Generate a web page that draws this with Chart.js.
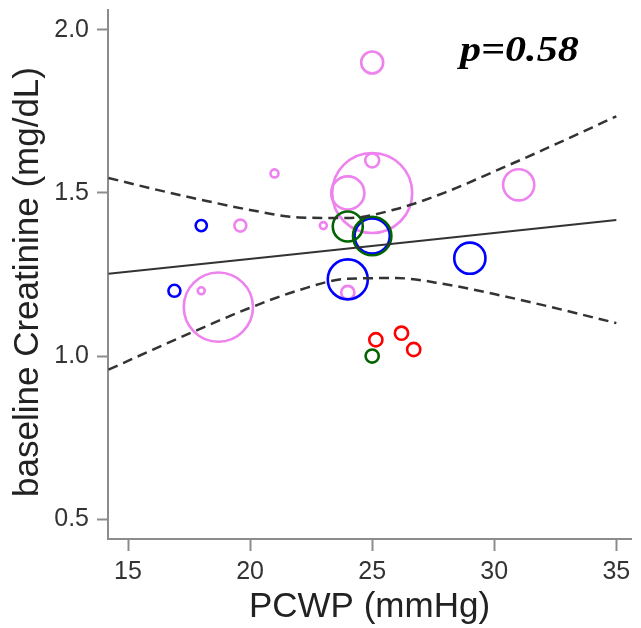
<!DOCTYPE html>
<html lang="en">
<head>
    <meta charset="UTF-8">
    <title>PCWP vs baseline Creatinine</title>
    <script src="https://cdn.jsdelivr.net/npm/chart.js"></script>
    <style>
        body { margin: 0; background: #fff; }
    </style>
</head>
<body>
    <canvas id="creatChart" width="641" height="628"></canvas>

    <script>
        // study points per group: PCWP (mmHg), creatinine (mg/dL), study weight
        const pinkX = [25, 25, 25, 24, 31, 21, 19.6, 23, 18, 18.7, 24];
        const pinkY = [1.90, 1.50, 1.60, 1.50, 1.525, 1.56, 1.40, 1.40, 1.20, 1.15, 1.195];
        const pinkW = [5.5, 20, 3.5, 8.3, 7.8, 2, 3, 1.75, 1.75, 17.3, 3.3];

        const blueX = [18, 16.9, 24, 29, 25];
        const blueY = [1.40, 1.20, 1.235, 1.30, 1.368];
        const blueW = [2.8, 3, 10, 7.8, 8.8];

        const greenX = [24, 25, 25];
        const greenY = [1.397, 1.368, 1.0];
        const greenW = [7.5, 9.6, 3.3];

        const redX = [25.15, 26.2, 26.7];
        const redY = [1.05, 1.07, 1.02];
        const redW = [3.3, 3.3, 3.3];

        // meta-regression fit and 95% band
        const fitX = [14.2, 35];
        const fitY = [1.252, 1.417];
        const bandX = [14.2, 16, 18, 20, 22, 24, 26, 28, 30, 32, 35];
        const bandUpper = [1.546, 1.513, 1.479, 1.448, 1.425, 1.423, 1.451, 1.502, 1.566, 1.632, 1.735];
        const bandLower = [0.958, 1.019, 1.085, 1.148, 1.202, 1.237, 1.239, 1.220, 1.190, 1.156, 1.101];

        const xTicks = [15, 20, 25, 30, 35];
        const yTicks = [0.5, 1.0, 1.5, 2.0];
        const pLabel = 'p=0.58';
        const xTitle = 'PCWP (mmHg)';
        const yTitle = 'baseline Creatinine (mg/dL)';

        const RADIUS_PER_WEIGHT = 2;

        function bubbles(xs, ys, ws) {
            return xs.map((x, i) => ({ x: x, y: ys[i], r: ws[i] * RADIUS_PER_WEIGHT }));
        }

        function xy(xs, ys) {
            return xs.map((x, i) => ({ x: x, y: ys[i] }));
        }

        function bubbleSet(data, color, order) {
            return {
                type: 'bubble',
                data: data,
                backgroundColor: 'rgba(0,0,0,0)',
                borderColor: color,
                borderWidth: 2.6,
                hoverRadius: 0,
                order: order
            };
        }

        function lineSet(data, dashed) {
            return {
                type: 'line',
                data: data,
                borderColor: '#333333',
                borderWidth: dashed ? 2.5 : 2,
                borderDash: dashed ? [10, 6] : [],
                pointRadius: 0,
                fill: false,
                tension: 0.4,
                cubicInterpolationMode: 'monotone',
                order: 0
            };
        }

        // fixed box for each axis, no extra label padding
        function fixBox(w, h) {
            return s => {
                if (w !== null) s.width = w;
                if (h !== null) s.height = h;
                s.paddingTop = 0;
                s.paddingBottom = 0;
                s.paddingLeft = 0;
                s.paddingRight = 0;
            };
        }

        const titleFamily = '"Liberation Sans", Arial, sans-serif';

        // y title sits a little below the plot's middle, p-value in the top right
        const annotations = {
            id: 'annotations',
            afterDraw(chart) {
                const ctx = chart.ctx;
                ctx.save();
                ctx.font = '35px ' + titleFamily;
                ctx.fillStyle = '#222';
                ctx.textAlign = 'center';
                ctx.textBaseline = 'middle';
                ctx.translate(28.5, 282);
                ctx.rotate(-Math.PI / 2);
                ctx.fillText(yTitle, 0, 0);
                ctx.restore();

                ctx.save();
                ctx.font = 'italic bold 36px "Liberation Serif"';
                ctx.fillStyle = '#000';
                ctx.textBaseline = 'alphabetic';
                ctx.textAlign = 'left';
                ctx.translate(460, 61);
                ctx.scale(1.17, 1);
                ctx.fillText(pLabel, 0, 0);
                ctx.restore();
            }
        };

        const axisColor = '#8c8c8c';
        const tickFont = { family: titleFamily, size: 25 };
        const titleFont = { family: titleFamily, size: 35 };

        new Chart(document.getElementById('creatChart').getContext('2d'), {
            data: {
                datasets: [
                    lineSet(xy(fitX, fitY), false),
                    lineSet(xy(bandX, bandUpper), true),
                    lineSet(xy(bandX, bandLower), true),
                    bubbleSet(bubbles(redX, redY, redW), '#ff0000', 1),
                    bubbleSet(bubbles(greenX, greenY, greenW), '#006400', 2),
                    bubbleSet(bubbles(blueX, blueY, blueW), '#0000ff', 3),
                    bubbleSet(bubbles(pinkX, pinkY, pinkW), '#ee82ee', 4)
                ]
            },
            options: {
                responsive: false,
                animation: false,
                events: [],
                layout: { autoPadding: false, padding: { top: 10, right: 10, left: 0, bottom: 0 } },
                plugins: { legend: { display: false }, tooltip: { enabled: false } },
                scales: {
                    x: {
                        type: 'linear',
                        min: 14.18,
                        max: 35.6,
                        afterFit: fixBox(null, 89),
                        afterBuildTicks: s => { s.ticks = xTicks.map(v => ({ value: v })); },
                        border: { color: axisColor, width: 2 },
                        grid: { drawOnChartArea: false, tickLength: 12, color: axisColor, tickWidth: 2 },
                        ticks: { font: tickFont, color: '#333', padding: 6, maxRotation: 0 },
                        title: { display: true, text: xTitle, font: titleFont, color: '#222',
                                 padding: { top: 0, bottom: 0 } }
                    },
                    y: {
                        type: 'linear',
                        min: 0.439,
                        max: 2.061,
                        afterFit: fixBox(108, null),
                        afterBuildTicks: s => { s.ticks = yTicks.map(v => ({ value: v })); },
                        border: { color: axisColor, width: 2 },
                        grid: { drawOnChartArea: false, tickLength: 11, color: axisColor, tickWidth: 2 },
                        ticks: { font: tickFont, color: '#333', padding: 8,
                                 callback: v => v.toFixed(1) }
                    }
                }
            },
            plugins: [annotations]
        });
    </script>
</body>
</html>
